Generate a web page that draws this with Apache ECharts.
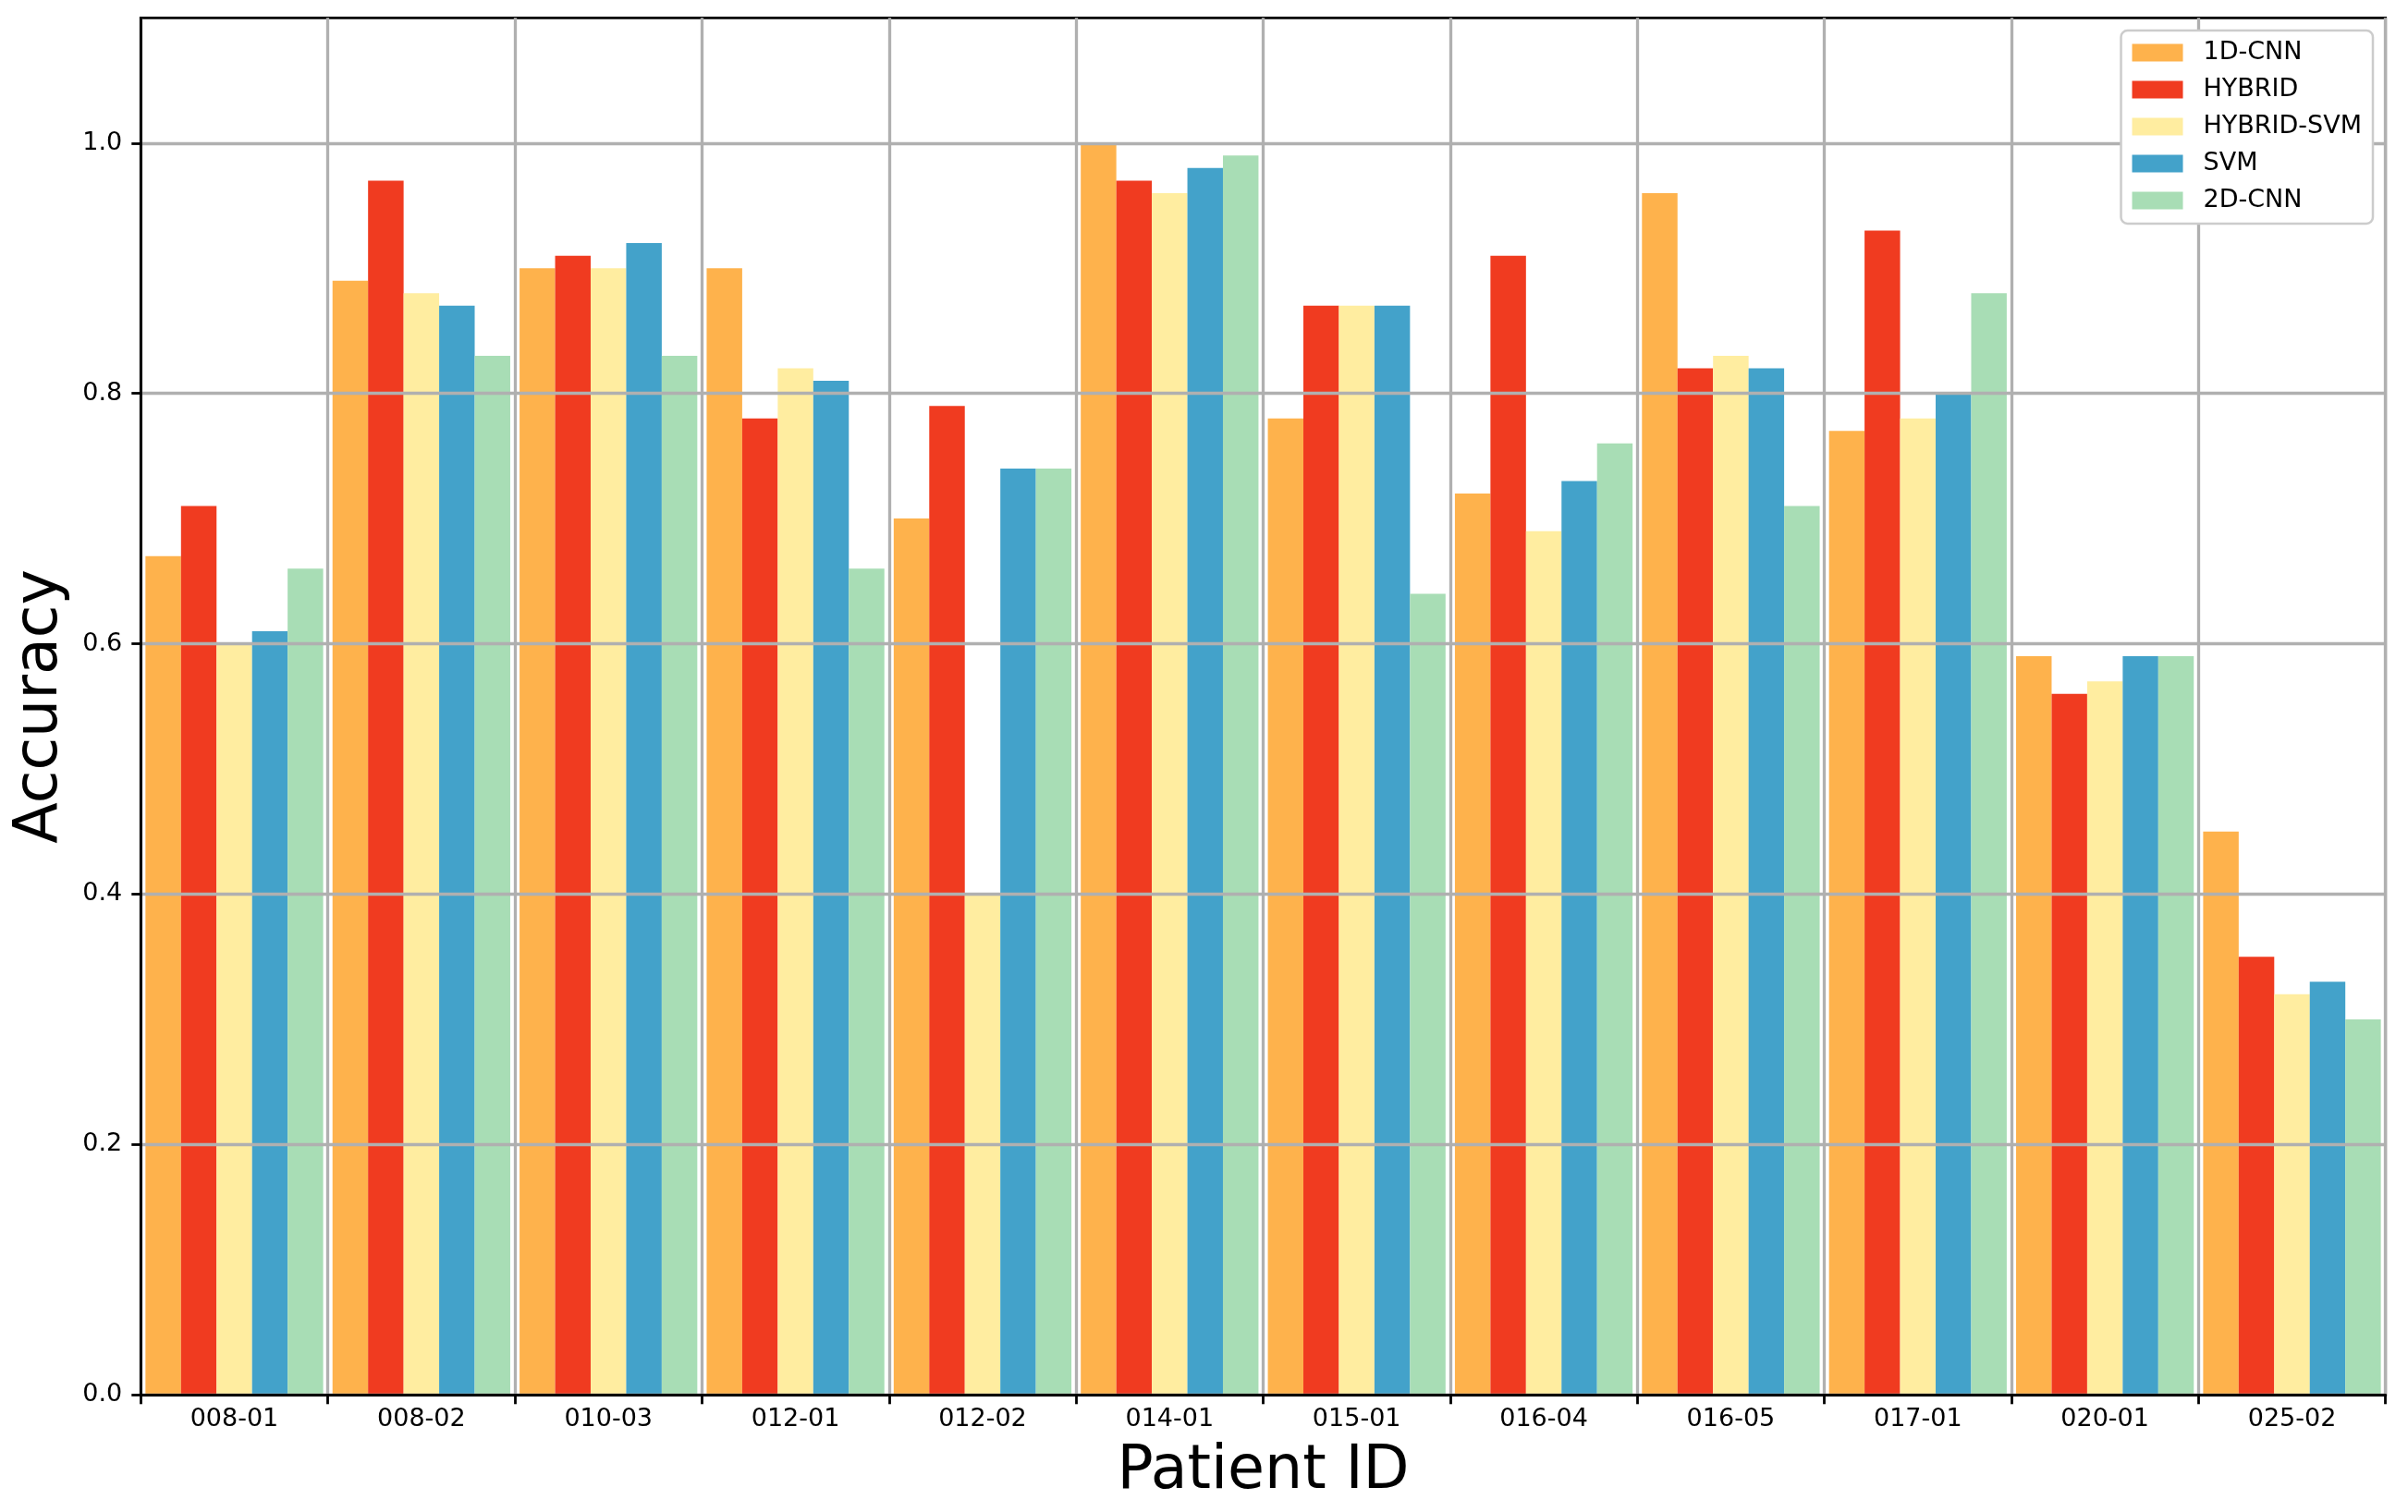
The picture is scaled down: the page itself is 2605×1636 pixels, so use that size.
<!DOCTYPE html>
<html>
<head>
<meta charset="utf-8">
<script src="https://cdn.jsdelivr.net/npm/echarts@6/dist/echarts.min.js"></script>
<style>
html,body{margin:0;padding:0;background:#fff;}
#chart{width:2605px;height:1636px;}
</style>
</head>
<body>
<div id="chart"></div>
<script>
const categories = ['008-01','008-02','010-03','012-01','012-02','014-01','015-01','016-04','016-05','017-01','020-01','025-02'];
const cnn1d     = [0.67,0.89,0.90,0.90,0.70,1.00,0.78,0.72,0.96,0.77,0.59,0.45];
const hybrid    = [0.71,0.97,0.91,0.78,0.79,0.97,0.87,0.91,0.82,0.93,0.56,0.35];
const hybridSvm = [0.60,0.88,0.90,0.82,0.40,0.96,0.87,0.69,0.83,0.78,0.57,0.32];
const svm       = [0.61,0.87,0.92,0.81,0.74,0.98,0.87,0.73,0.82,0.80,0.59,0.33];
const cnn2d     = [0.66,0.83,0.83,0.66,0.74,0.99,0.64,0.76,0.71,0.88,0.59,0.30];
const seriesNames = ['1D-CNN','HYBRID','HYBRID-SVM','SVM','2D-CNN'];
const yTicks = [0,0.2,0.4,0.6,0.8,1.0];

const colors = ['#feb24c','#f03b20','#ffeda0','#43a2ca','#a8ddb5'];
const font = 'DejaVu Sans';
const chart = echarts.init(document.getElementById('chart'), null, {renderer:'canvas'});
const data = [cnn1d, hybrid, hybridSvm, svm, cnn2d];

chart.setOption({
  animation:false,
  backgroundColor:'#ffffff',
  color: colors,
  textStyle:{fontFamily:font},
  grid:{left:152.3, right:24.3, top:19.3, bottom:126.7, show:true, borderColor:'#000', borderWidth:2.8, backgroundColor:'transparent'},
  legend:{
    right:38, top:33, orient:'vertical', align:'left',
    itemWidth:55, itemHeight:19, itemGap:10,
    padding:[9,12,10,12],
    backgroundColor:'#ffffff', borderColor:'#cccccc', borderWidth:2.5, borderRadius:7,
    icon:'rect',
    textStyle:{fontFamily:font, fontSize:27, color:'#000', lineHeight:30, padding:[0,0,0,17]},
    data: seriesNames
  },
  xAxis:{
    type:'category', data:categories, z:3,
    name:'Patient ID', nameLocation:'middle', nameGap:51,
    nameTextStyle:{fontFamily:font, fontSize:65, color:'#000', lineHeight:65},
    axisLine:{lineStyle:{color:'#000', width:2.8}},
    axisTick:{show:true, length:10, lineStyle:{color:'#000', width:2.8}},
    axisLabel:{fontFamily:font, fontSize:27, color:'#000', margin:13, lineHeight:27},
    splitLine:{show:true, lineStyle:{color:'#b0b0b0', width:3.3}}
  },
  yAxis:{
    type:'value', min:0, max:1.1, interval:0.2, z:3,
    name:'Accuracy', nameLocation:'middle', nameGap:76,
    nameTextStyle:{fontFamily:font, fontSize:65, color:'#000', lineHeight:65},
    axisLine:{show:true, lineStyle:{color:'#000', width:2.8}},
    axisTick:{show:true, length:10, lineStyle:{color:'#000', width:2.8}, customValues:yTicks},
    axisLabel:{fontFamily:font, fontSize:27, color:'#000', margin:20, customValues:yTicks, formatter:v=>v.toFixed(1)},
    splitLine:{show:true, lineStyle:{color:'#b0b0b0', width:3.3}}
  },
  series: seriesNames.map((n,i)=>({
    name:n, type:'bar', data:data[i],
    barGap:0, barCategoryGap:'5%',
    itemStyle:{color:colors[i]}
  }))
});
</script>
</body>
</html>
